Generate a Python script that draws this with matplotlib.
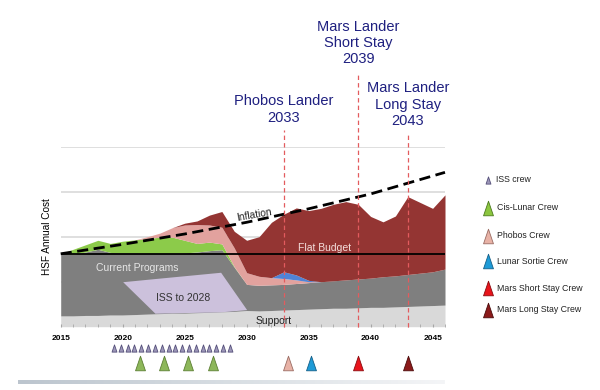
import numpy as np
import matplotlib
matplotlib.use("Agg")
import matplotlib.pyplot as plt
from matplotlib.path import Path

plt.rcParams['font.family'] = ['Liberation Sans', 'DejaVu Sans']

# ---------------- data ----------------
years = list(range(2015, 2047))

support_top = [0.24, 0.24, 0.25, 0.25, 0.26, 0.26, 0.27, 0.28, 0.29, 0.30, 0.30, 0.31,
               0.32, 0.33, 0.34, 0.36, 0.35, 0.36, 0.37, 0.38, 0.39, 0.40, 0.41, 0.41,
               0.42, 0.43, 0.43, 0.44, 0.45, 0.46, 0.47, 0.48]
programs_top = [1.62, 1.61, 1.66, 1.72, 1.65, 1.64, 1.64, 1.63, 1.63, 1.63, 1.64, 1.66,
                1.69, 1.71, 1.32, 0.94, 0.92, 0.93, 0.94, 0.96, 0.98, 1.00, 1.02, 1.04,
                1.06, 1.08, 1.11, 1.13, 1.16, 1.19, 1.22, 1.28]
cislunar_top = [1.62, 1.72, 1.82, 1.92, 1.85, 1.90, 1.93, 1.96, 1.99, 1.99, 1.92, 1.85,
                1.88, 1.84, 1.33, 0.94, 0.92, 0.93, 0.94, 0.96, 0.98, 1.00, 1.02, 1.04,
                1.06, 1.08, 1.11, 1.13, 1.16, 1.19, 1.22, 1.28]
phobos_top = [1.62, 1.72, 1.82, 1.92, 1.85, 1.90, 1.93, 2.00, 2.08, 2.20, 2.26, 2.27,
              2.26, 2.21, 1.75, 1.20, 1.12, 1.09, 1.07, 1.04, 1.00, 1.00, 1.02, 1.04,
              1.06, 1.08, 1.11, 1.13, 1.16, 1.19, 1.22, 1.28]
sortie_top = [1.62, 1.72, 1.82, 1.92, 1.85, 1.90, 1.93, 2.00, 2.08, 2.20, 2.26, 2.27,
              2.26, 2.21, 1.75, 1.20, 1.12, 1.09, 1.22, 1.15, 1.03, 1.00, 1.02, 1.04,
              1.06, 1.08, 1.11, 1.13, 1.16, 1.19, 1.22, 1.28]
mars_top = [1.62, 1.72, 1.82, 1.92, 1.85, 1.90, 1.93, 2.00, 2.08, 2.20, 2.30, 2.35,
            2.48, 2.56, 2.12, 1.92, 2.00, 2.32, 2.50, 2.64, 2.58, 2.63, 2.72, 2.78,
            2.72, 2.45, 2.33, 2.46, 2.89, 2.76, 2.63, 2.93]

iss_years = [2020.0, 2022.6, 2027.9, 2030.0]
iss_top = [1.00, 1.07, 1.21, 0.38]
iss_bottom = [1.00, 0.30, 0.33, 0.38]

flat_budget = 1.62
inflation_years = [2015, 2020, 2025, 2030, 2035, 2040, 2046]
inflation_vals = [1.62, 1.83, 2.06, 2.32, 2.62, 2.95, 3.43]

milestone_years = [2033, 2039, 2043]
milestone_labels = ["Phobos Lander\n2033", "Mars Lander\nShort Stay\n2039",
                    "Mars Lander\nLong Stay\n2043"]

tick_years = [2015, 2020, 2025, 2030, 2035, 2040, 2045]

iss_crew = [2019.3, 2019.85, 2020.4, 2020.95, 2021.5, 2022.05, 2022.6, 2023.15, 2023.7,
            2024.25, 2024.8, 2025.35, 2025.9, 2026.45, 2027.0, 2027.55, 2028.1, 2028.65]
cislunar_crew = [2021.4, 2023.3, 2025.3, 2027.3]
phobos_crew = [2033.3]
sortie_crew = [2035.2]
mars_short_crew = [2039.0]
mars_long_crew = [2043.0]

legend_labels = ["ISS crew", "Cis-Lunar Crew", "Phobos Crew", "Lunar Sortie Crew",
                 "Mars Short Stay Crew", "Mars Long Stay Crew"]

# ---------------- style ----------------
c_support = "#D9D9D9"
c_prog = "#7F7F7F"
c_iss = "#CCC1DC"
c_green = "#8CCB4A"
c_pink = "#E2A29E"
c_blue = "#4F83D6"
c_red = "#943533"
navy = "#1F2080"

tri = Path([(-0.34, -0.5), (0.34, -0.5), (0.0, 0.5), (-0.34, -0.5)],
           [Path.MOVETO, Path.LINETO, Path.LINETO, Path.CLOSEPOLY])

fig = plt.figure(figsize=(6, 3.9), dpi=100)
W, H = 600, 390
x0, x1, ytop, ybot = 60.7, 445.0, 146.7, 326.7
ax = fig.add_axes([x0 / W, 1 - ybot / H, (x1 - x0) / W, (ybot - ytop) / H])
ax.set_xlim(2015, 2045.9)
ax.set_ylim(0, 4)

for g in [1, 2, 3, 4]:
    ax.axhline(g, color="#D9D9D9", lw=1.2, zorder=0)

zeros = [0] * len(years)
ax.fill_between(years, zeros, support_top, color=c_support, lw=0, zorder=1)
ax.fill_between(years, support_top, programs_top, color=c_prog, lw=0, zorder=1)
ax.fill_between(years, programs_top, cislunar_top, color=c_green, lw=0, zorder=1)
ax.fill_between(years, cislunar_top, phobos_top, color=c_pink, lw=0, zorder=1)
ax.fill_between(years, phobos_top, sortie_top, color=c_blue, lw=0, zorder=1)
ax.fill_between(years, sortie_top, mars_top, color=c_red, lw=0, zorder=1)
ax.fill_between(iss_years, iss_bottom, iss_top, color=c_iss, lw=0, zorder=2)

ax.axhline(flat_budget, color="black", lw=1.3, zorder=4)
ax.plot(inflation_years, inflation_vals, color="black", lw=2.0, dashes=(4, 2),
        zorder=5, clip_on=False)

tops = [4.37, 5.67, 4.30]
for yr, t, lab in zip(milestone_years, tops, milestone_labels):
    ax.plot([yr, yr], [0, t], color="#E35B5E", lw=0.9, dashes=(3.5, 2.5), zorder=6,
            clip_on=False)
    ax.text(yr, t + 0.12, lab, ha="center", va="bottom", fontsize=10.5, color=navy,
            linespacing=1.2)

ax.text(2030.6, 2.48, "Inflation", fontsize=7.3, rotation=10, ha="center",
        va="center", color="#222222", zorder=6)
ax.text(2036.3, 1.74, "Flat Budget", fontsize=7.5, ha="center", va="center",
        color="#F5DEDC", zorder=6)
ax.text(2021.2, 1.30, "Current Programs", fontsize=7.5, ha="center", va="center",
        color="#E6E6E6", zorder=6)
ax.text(2024.9, 0.63, "ISS to 2028", fontsize=7.5, ha="center", va="center",
        color="#333333", zorder=6)
ax.text(2032.2, 0.13, "Support", fontsize=7.5, ha="center", va="center",
        color="#222222", zorder=6)

for s in ax.spines.values():
    s.set_visible(False)
ax.set_yticks([])
ax.set_xticks(tick_years)
ax.set_xticks(years, minor=True)
ax.set_xticklabels([str(t) for t in tick_years], fontsize=6, fontweight="bold")
ax.tick_params(axis="x", which="both", direction="in", length=2.5, color="#A6A6A6",
               pad=6)
ax.set_ylabel("HSF Annual Cost", fontsize=7.2, labelpad=6)

# crew triangles below the axis
ax.plot(iss_crew, [-0.48] * len(iss_crew), ls="none", marker=tri, ms=5.2,
        mfc="#9C96B8", mec="#55507A", mew=0.6, clip_on=False)
crew_sets = [(cislunar_crew, "#8DB75A", "#5C7F33"),
             (phobos_crew, "#E8B2A6", "#9A6C63"),
             (sortie_crew, "#1E9BD7", "#145F88"),
             (mars_short_crew, "#E8141B", "#8A0A0E"),
             (mars_long_crew, "#8B1A1A", "#4A0A0A")]
for xs, fc, ec in crew_sets:
    ax.plot(xs, [-0.80] * len(xs), ls="none", marker=tri, ms=10.5, mfc=fc, mec=ec,
            mew=0.6, clip_on=False)

# legend + decorations in pixel coordinates
ov = fig.add_axes([0, 0, 1, 1])
ov.set_xlim(0, W)
ov.set_ylim(H, 0)
ov.axis("off")
ov.patch.set_alpha(0)

leg_y = [180.0, 207.7, 236.0, 261.0, 288.3, 310.0]
leg_fc = ["#9C96B8", "#8CC63F", "#E8B2A6", "#1E9BD7", "#E8141B", "#8B1A1A"]
leg_ec = ["#55507A", "#4C7A1E", "#9A6C63", "#145F88", "#8A0A0E", "#4A0A0A"]
leg_ms = [5.2, 10.5, 10.5, 10.5, 10.5, 10.5]
for y, lab, fc, ec, ms in zip(leg_y, legend_labels, leg_fc, leg_ec, leg_ms):
    ov.plot([487.5], [y], ls="none", marker=tri, ms=ms, mfc=fc, mec=ec, mew=0.6)
    ov.text(495.5 if ms < 6 else 497.0, y, lab, fontsize=6.3, va="center", ha="left",
            color="#222222")

grad = np.linspace(0, 1, 256).reshape(1, -1)
ov.imshow(grad, extent=[18, 445, 384, 380.5], aspect="auto",
          cmap=matplotlib.colors.LinearSegmentedColormap.from_list(
              "g", ["#BCC5CE", "#D8DEE3", "#F4F5F7"]), zorder=1)
ov.set_xlim(0, W)
ov.set_ylim(H, 0)

fig.savefig("out.png", dpi=100, facecolor="white")
